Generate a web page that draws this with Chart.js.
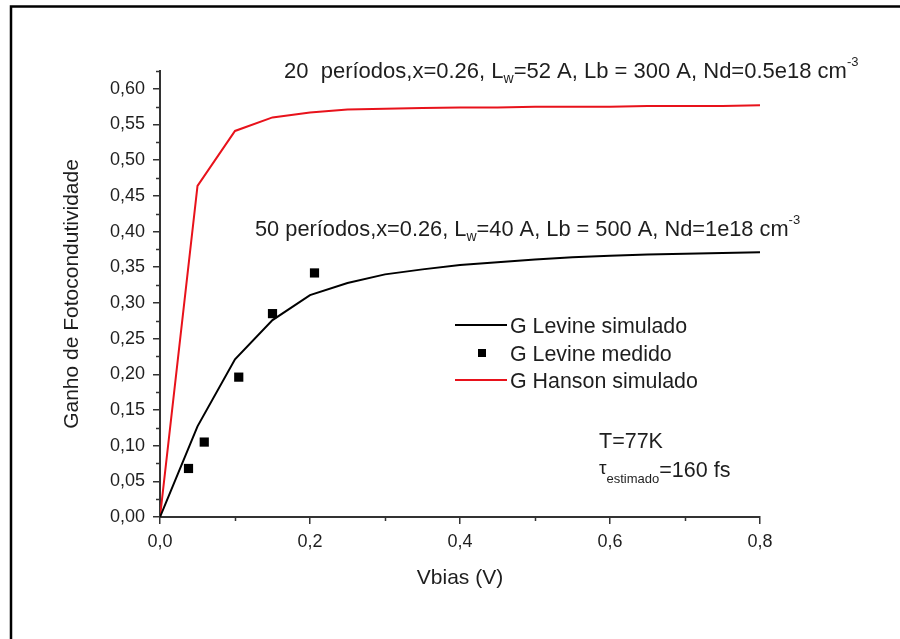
<!DOCTYPE html>
<html>
<head>
<meta charset="utf-8">
<script src="https://cdn.jsdelivr.net/npm/chart.js@4.4.0/dist/chart.umd.min.js"></script>
<style>
  html, body { margin: 0; padding: 0; background: #fff; }
</style>
</head>
<body>
<canvas id="graficoGanho" width="900" height="639"></canvas>
<script>
// Vbias (V) das curvas simuladas
const vbias = [0, 0.05, 0.1, 0.15, 0.2, 0.25, 0.3, 0.35, 0.4, 0.45, 0.5, 0.55, 0.6, 0.65, 0.7, 0.75, 0.8];
const gLevineSimulado = [0, 0.127, 0.221, 0.276, 0.311, 0.328, 0.340, 0.347, 0.353, 0.357, 0.361, 0.364, 0.366, 0.368, 0.369, 0.370, 0.371];
const gHansonSimulado = [0, 0.464, 0.541, 0.560, 0.567, 0.571, 0.572, 0.573, 0.574, 0.574, 0.575, 0.575, 0.575, 0.576, 0.576, 0.576, 0.577];

// pontos medidos
const vbiasMedido = [0.038, 0.059, 0.105, 0.150, 0.206];
const gLevineMedido = [0.068, 0.105, 0.196, 0.285, 0.342];

// marcas menores dos eixos
const yMenores = [0.025, 0.075, 0.125, 0.175, 0.225, 0.275, 0.325, 0.375, 0.425, 0.475, 0.525, 0.575, 0.625];
const xMenores = [0.1, 0.3, 0.5, 0.7];

const legendas = ["G Levine simulado", "G Levine medido", "G Hanson simulado"];

const FONTE = '"Liberation Sans", Arial, sans-serif';
const COR_TEXTO = "#1e1e1e";
const COR_EIXO = "#333";
const VERMELHO = "#e8121b";

const pares = (xs, ys) => xs.map((x, i) => ({ x: x, y: ys[i] }));

// texto com subscritos / sobrescritos: [texto, tamanho, deslocamento vertical]
function textoRico(ctx, x, y, partes) {
  ctx.textBaseline = "alphabetic";
  ctx.textAlign = "left";
  ctx.fillStyle = COR_TEXTO;
  partes.forEach(([t, tam, dy]) => {
    ctx.font = tam + "px " + FONTE;
    ctx.fillText(t, x, y + dy);
    x += ctx.measureText(t).width;
  });
}

const extras = {
  id: "extras",
  beforeDraw(chart) {
    const ctx = chart.ctx;
    ctx.save();
    ctx.fillStyle = "#fff";
    ctx.fillRect(0, 0, chart.width, chart.height);
    // moldura
    ctx.strokeStyle = "#000";
    ctx.lineWidth = 2.5;
    ctx.beginPath();
    ctx.moveTo(11, 639);
    ctx.lineTo(11, 6.5);
    ctx.lineTo(900, 6.5);
    ctx.stroke();
    ctx.restore();
  },
  afterDraw(chart) {
    const ctx = chart.ctx;
    const xs = chart.scales.x;
    const ys = chart.scales.y;
    const area = chart.chartArea;
    ctx.save();
    // marcas menores
    ctx.strokeStyle = COR_EIXO;
    ctx.lineWidth = 1.5;
    ctx.beginPath();
    yMenores.forEach((v) => {
      const py = Math.round(ys.getPixelForValue(v)) + 0.5;
      ctx.moveTo(area.left - 4, py);
      ctx.lineTo(area.left, py);
    });
    xMenores.forEach((v) => {
      const px = Math.round(xs.getPixelForValue(v)) + 0.5;
      ctx.moveTo(px, area.bottom);
      ctx.lineTo(px, area.bottom + 4);
    });
    ctx.stroke();

    // anotações
    textoRico(ctx, 284, 78, [
      ["20  períodos,x=0.26, L", 22, 0], ["w", 14, 5],
      ["=52 A, Lb = 300 A, Nd=0.5e18 cm", 22, 0], ["-3", 13, -12],
    ]);
    textoRico(ctx, 255, 236, [
      ["50 períodos,x=0.26, L", 21.8, 0], ["w", 14, 5],
      ["=40 A, Lb = 500 A, Nd=1e18 cm", 21.8, 0], ["-3", 13, -12],
    ]);
    textoRico(ctx, 599, 448, [["T=77K", 21.5, 0]]);
    textoRico(ctx, 599, 474, [["τ", 19, 0], ["estimado", 13, 9], ["=160 fs", 21.5, 3]]);

    // legenda
    const linhas = [325, 353, 380];
    ctx.lineWidth = 2;
    ctx.strokeStyle = "#000";
    ctx.beginPath();
    ctx.moveTo(455, linhas[0]);
    ctx.lineTo(507, linhas[0]);
    ctx.stroke();
    ctx.fillStyle = "#000";
    ctx.fillRect(478, linhas[1] - 4, 8, 8);
    ctx.strokeStyle = VERMELHO;
    ctx.beginPath();
    ctx.moveTo(455, linhas[2]);
    ctx.lineTo(507, linhas[2]);
    ctx.stroke();
    legendas.forEach((t, i) => textoRico(ctx, 510, linhas[i] + 7.5, [[t, 21.4, 0]]));
    ctx.restore();
  },
};

const ctx = document.getElementById("graficoGanho").getContext("2d");
new Chart(ctx, {
  type: "scatter",
  data: {
    datasets: [
      {
        label: legendas[1],
        data: pares(vbiasMedido, gLevineMedido),
        pointStyle: "rect",
        pointRadius: 6.5,
        pointBackgroundColor: "#000",
        pointBorderWidth: 0,
        showLine: false,
      },
      {
        label: legendas[0],
        data: pares(vbias, gLevineSimulado),
        showLine: true,
        borderColor: "#000",
        borderWidth: 2,
        pointRadius: 0,
        tension: 0,
      },
      {
        label: legendas[2],
        data: pares(vbias, gHansonSimulado),
        showLine: true,
        borderColor: VERMELHO,
        borderWidth: 2,
        pointRadius: 0,
        tension: 0,
      },
    ],
  },
  options: {
    responsive: false,
    animation: false,
    devicePixelRatio: 1,
    layout: { padding: { left: 60, right: 140, top: 71, bottom: 48 } },
    plugins: { legend: { display: false }, tooltip: { enabled: false } },
    scales: {
      x: {
        type: "linear",
        min: 0,
        max: 0.8,
        afterFit: (s) => { s.height = 74; },
        ticks: {
          stepSize: 0.2,
          includeBounds: false,
          padding: 7,
          color: COR_TEXTO,
          font: { family: FONTE, size: 18 },
          callback: (v) => v.toFixed(1).replace(".", ","),
        },
        grid: { drawOnChartArea: false, tickLength: 7, color: COR_EIXO, lineWidth: 1.5 },
        border: { color: COR_EIXO, width: 2 },
        title: { display: true, text: "Vbias (V)", color: COR_TEXTO, padding: 0, font: { family: FONTE, size: 21 } },
      },
      y: {
        type: "linear",
        min: 0,
        max: 0.625,
        afterFit: (s) => { s.width = 100; },
        ticks: {
          stepSize: 0.05,
          includeBounds: false,
          padding: 8,
          color: COR_TEXTO,
          font: { family: FONTE, size: 18 },
          callback: (v) => v.toFixed(2).replace(".", ","),
        },
        grid: { drawOnChartArea: false, tickLength: 7, color: COR_EIXO, lineWidth: 1.5 },
        border: { color: COR_EIXO, width: 2 },
        title: { display: true, text: "Ganho de Fotocondutividade", color: COR_TEXTO, padding: 0, font: { family: FONTE, size: 21 } },
      },
    },
  },
  plugins: [extras],
});
</script>
</body>
</html>
